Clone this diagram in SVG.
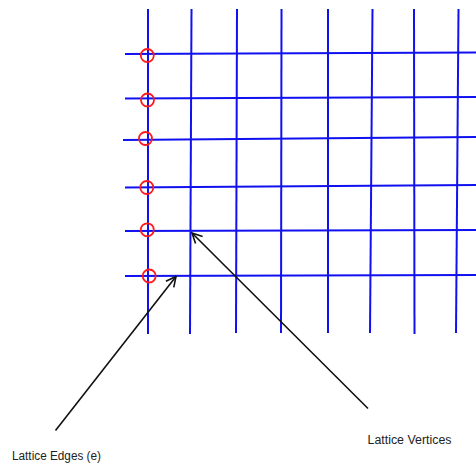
<svg xmlns="http://www.w3.org/2000/svg" width="476" height="465" viewBox="0 0 476 465">
<style>
.g line{stroke:#1010f0;stroke-width:2;stroke-linecap:butt}
.v circle{fill:none;stroke:#ff1a1a;stroke-width:1.8}
.a{stroke:#111;stroke-width:1.6;fill:none}
.t{font-family:"Liberation Sans",Arial,sans-serif;font-size:12px;fill:#222}
</style>
<defs>
<marker id="ah" viewBox="0 0 12 12" refX="11" refY="6" markerWidth="12" markerHeight="12" markerUnits="userSpaceOnUse" orient="auto">
<path d="M1,1 L11,6 L1,11" fill="none" stroke="#111" stroke-width="1.6"/>
</marker>
</defs>
<g id="lattice" class="g">
<line x1="148" y1="9" x2="148" y2="334"/>
<line x1="191.5" y1="9" x2="190" y2="334"/>
<line x1="237" y1="9" x2="236" y2="333"/>
<line x1="281.5" y1="9" x2="281" y2="333"/>
<line x1="328" y1="9" x2="328" y2="333"/>
<line x1="372.5" y1="9" x2="370" y2="333"/>
<line x1="414" y1="9" x2="414.5" y2="334"/>
<line x1="458.5" y1="9" x2="456" y2="333"/>
<line x1="125" y1="54" x2="476" y2="52.5"/>
<line x1="125" y1="98.5" x2="476" y2="97"/>
<line x1="123" y1="140" x2="476" y2="137"/>
<line x1="125" y1="187.5" x2="476" y2="185"/>
<line x1="125" y1="231" x2="476" y2="230"/>
<line x1="125" y1="276" x2="476" y2="275"/>
</g>
<g id="boundary-vertices" class="v">
<circle cx="147.3" cy="55.5" r="6.5"/>
<circle cx="147.5" cy="100" r="6.5"/>
<circle cx="145.5" cy="138.5" r="6.5"/>
<circle cx="146.8" cy="187.5" r="6.5"/>
<circle cx="147.3" cy="229.8" r="6.5"/>
<circle cx="149.2" cy="276" r="6.5"/>
</g>
<g id="connectors">
<line class="a" x1="55.5" y1="430.5" x2="176" y2="276.5" marker-end="url(#ah)"/>
<line class="a" x1="368" y1="408.5" x2="192" y2="233" marker-end="url(#ah)"/>
</g>
<g id="label-edges">
<text class="t" x="12" y="460" textLength="89" lengthAdjust="spacingAndGlyphs">Lattice Edges (e)</text>
</g>
<g id="label-vertices">
<text class="t" x="367.5" y="443.5" textLength="84" lengthAdjust="spacingAndGlyphs">Lattice Vertices</text>
</g>
</svg>
